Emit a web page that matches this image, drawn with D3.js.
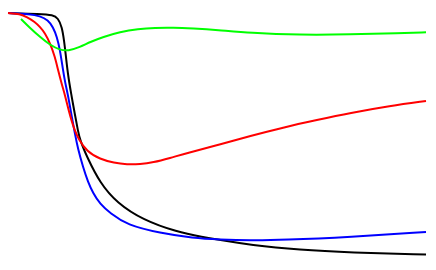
<!DOCTYPE html>
<html lang="en">
<head>
    <meta charset="UTF-8">
    <title>Four curves</title>
    <script src="https://d3js.org/d3.v7.min.js"></script>
    <style>
        html, body { margin: 0; padding: 0; background: #fff; }
        svg { display: block; }
    </style>
</head>
<body>
    <svg width="436" height="270"></svg>
    <script>
        // [x, y] pairs
        const blackSeries = [[0,242],[32,241],[45,240],[50,237],[54,228],[56,215],[58,198],[60,180],[63,162],[67,140],[70,124],[72,115],[79,98],[92,72],[109,52],[135,35],[169,23],[195,18],[212,15],[242,10],[292,5],[342,2.5],[418,0.5]];
        const blueSeries = [[0,242],[22,241],[32,239],[40,235],[45,228],[49,218],[52,205],[55,185],[57,173],[60,160],[64,137],[67,121],[70,106],[75,88],[80,73],[85,62],[92,51],[102,42],[119,30],[152,22],[185,17],[212,15.5],[242,14.5],[275,15],[342,18],[418,23]];
        const redSeries = [[0,242],[12,241],[19,238],[27,233],[32,228],[37,222],[42,212],[47,198],[50,185],[54,170],[57,160],[61,143],[64,133],[67,124],[70,117],[79,103],[92,96],[106,92],[119,90.5],[132,90.8],[145,92.5],[162,97],[179,102],[212,110.5],[242,119],[275,127.5],[309,135],[342,142],[382,149],[418,154]];
        const greenSeries = [[13,236],[22,227],[32,218],[42,210],[52,205],[60,204],[72,208],[82,213],[95,218],[112,223],[130,226],[147,227.3],[165,227.5],[185,226.5],[209,225],[242,222],[292,220],[342,220.5],[392,222],[418,222.7]];

        const series = [
            { name: 'black', color: '#000000', values: blackSeries },
            { name: 'blue', color: '#0000ff', values: blueSeries },
            { name: 'red', color: '#ff0000', values: redSeries },
            { name: 'green', color: '#00ff00', values: greenSeries }
        ];

        const svg = d3.select('svg');
        const x = d3.scaleLinear().domain([0, 418]).range([8, 426]);
        const y = d3.scaleLinear().domain([0, 242]).range([255, 13]);

        const line = d3.line()
            .x(d => x(d[0]))
            .y(d => y(d[1]))
            .curve(d3.curveBasis);

        svg.selectAll('path.curve')
            .data(series)
            .enter()
            .append('path')
            .attr('class', 'curve')
            .attr('fill', 'none')
            .attr('stroke', d => d.color)
            .attr('stroke-width', 2)
            .attr('d', d => line(d.values));
    </script>
</body>
</html>
